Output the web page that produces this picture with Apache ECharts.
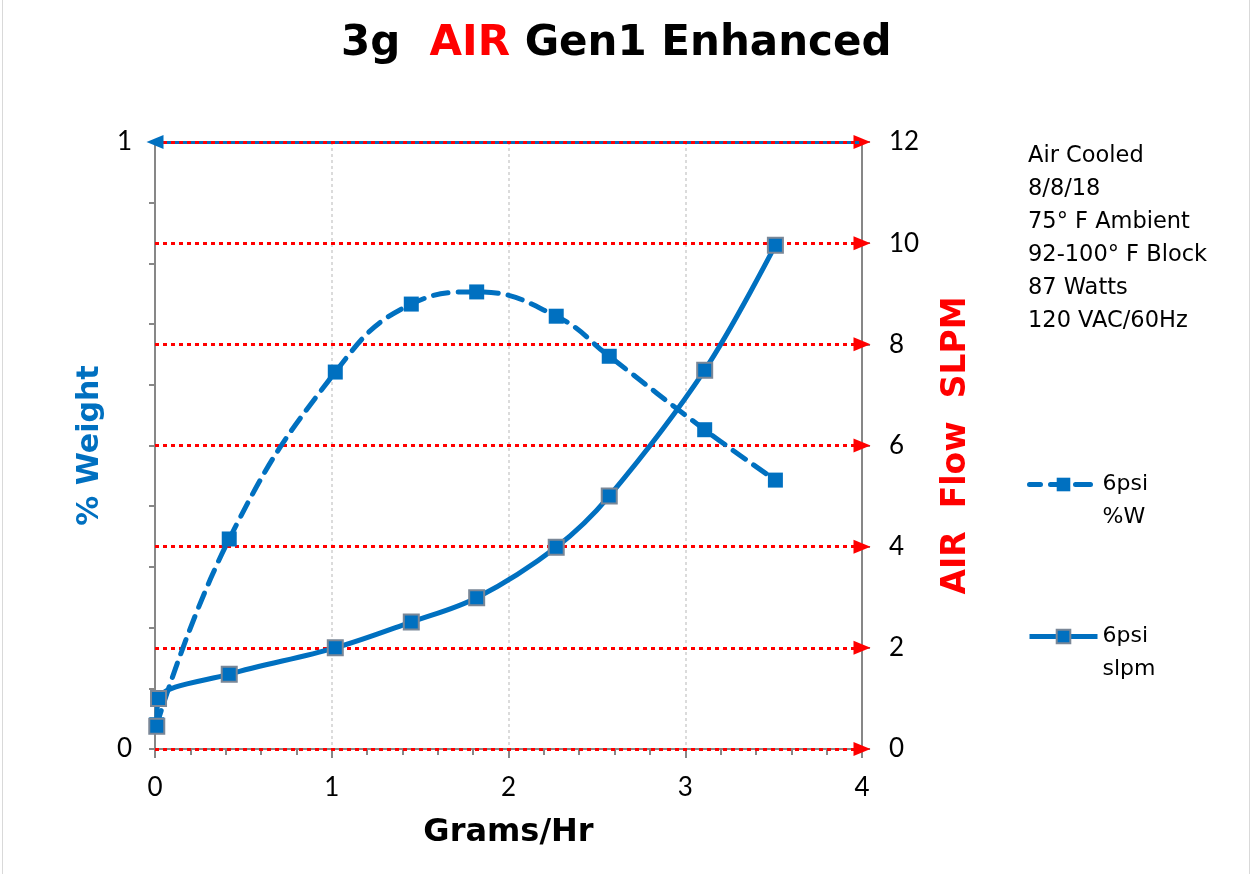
<!DOCTYPE html>
<html>
<head>
<meta charset="utf-8">
<script src="https://cdn.jsdelivr.net/npm/echarts@6/dist/echarts.min.js"></script>
<style>
  html, body { margin: 0; padding: 0; background: #fff; }
  #main { width: 1255px; height: 874px; }
</style>
</head>
<body>
<div id="main"></div>
<script>
// grams/hr for each measured point
var gramsW = [0.01, 0.42, 1.02, 1.45, 1.82, 2.27, 2.57, 3.11, 3.51];
var pctWeight = [0.04, 0.346, 0.621, 0.733, 0.753, 0.713, 0.647, 0.526, 0.443];
var gramsS = [0.01, 0.02, 0.42, 1.02, 1.45, 1.82, 2.27, 2.57, 3.11, 3.51];
var slpm = [0.45, 1.0, 1.48, 2.0, 2.51, 2.99, 3.99, 5.0, 7.49, 9.96];
var flowLevels = [0, 2, 4, 6, 8, 10, 12];
var notes = ['Air Cooled', '8/8/18', '75° F Ambient', '92-100° F Block', '87 Watts', '120 VAC/60Hz'];

var BLUE = '#0070C0';
var RED = '#FF0000';
var FONT = 'DejaVu Sans';
var TICK_FONT = 'Lato';

function pairs(xs, ys) {
  return xs.map(function (x, i) { return [x, ys[i]]; });
}

// legend entries: blank first line so "6psi" sits level with the icon
var legendBase = {
  itemWidth: 68, itemHeight: 17, itemGap: 0,
  formatter: function (name) { return '\n' + name; },
  textStyle: { fontFamily: FONT, fontSize: 22, lineHeight: 33, color: '#000' },
  lineStyle: { width: 5 }
};

var myChart = echarts.init(document.getElementById('main'));

myChart.setOption({
  animation: false,
  textStyle: { fontFamily: FONT },
  title: {
    text: '{k|3g  }{r|AIR}{k| Gen1 Enhanced}',
    left: 336,
    top: 18,
    textStyle: {
      rich: {
        k: { fontFamily: FONT, fontWeight: 'bold', fontSize: 42, color: '#000' },
        r: { fontFamily: FONT, fontWeight: 'bold', fontSize: 42, color: RED }
      }
    }
  },
  grid: { left: 155, right: 393, top: 142, bottom: 125 },
  legend: [
    Object.assign({ data: ['6psi\n%W'], left: 1022, top: 430 }, legendBase),
    Object.assign({ data: ['6psi\nslpm'], left: 1022, top: 582 }, legendBase)
  ],
  graphic: [
    {
      type: 'rect', silent: true,
      shape: { x: 2.5, y: -2, width: 1247, height: 880 },
      style: { fill: 'none', stroke: '#d9d9d9', lineWidth: 1 }
    },
    {
      type: 'text', left: 1028, top: 140,
      style: { text: notes.join('\n'), fontFamily: FONT, fontSize: 22.5, lineHeight: 33, fill: '#000' }
    }
  ],
  xAxis: {
    type: 'value', min: 0, max: 4, interval: 1,
    name: 'Grams/Hr', nameLocation: 'middle', nameGap: 68,
    nameTextStyle: { fontSize: 32, fontWeight: 'bold', color: '#000' },
    axisLine: { lineStyle: { color: '#878787', width: 2 } },
    axisTick: { show: true, length: 9, lineStyle: { color: '#878787', width: 2 } },
    minorTick: { show: true, splitNumber: 5, length: 6, lineStyle: { color: '#878787', width: 2 } },
    axisLabel: { fontFamily: TICK_FONT, fontSize: 26, color: '#000', margin: 26 },
    splitLine: { show: true, lineStyle: { color: '#d0d0d0', type: [3, 3], width: 1.5 } }
  },
  yAxis: [
    {
      type: 'value', min: 0, max: 1, interval: 0.1,
      name: '% Weight', nameLocation: 'middle', nameGap: 50, nameRotate: 90,
      nameTextStyle: { fontSize: 30, fontWeight: 'bold', color: BLUE },
      axisLine: { show: true, lineStyle: { color: '#878787', width: 2 } },
      axisTick: { show: true, length: 6, lineStyle: { color: '#878787', width: 2 } },
      axisLabel: {
        fontFamily: TICK_FONT, fontSize: 26, color: '#000', margin: 23,
        formatter: function (v) { return (v === 0 || v === 1) ? String(v) : ''; }
      },
      splitLine: { show: false }
    },
    {
      type: 'value', min: 0, max: 12, interval: 2, position: 'right',
      name: '{r|AIR  Flow  SLPM}', nameLocation: 'middle', nameGap: 78, nameRotate: 90,
      nameTextStyle: { rich: { r: { fontSize: 33, fontWeight: 'bold', color: RED, fontFamily: FONT } } },
      axisLine: { show: true, lineStyle: { color: '#878787', width: 2 } },
      axisTick: { show: true, length: 8, lineStyle: { color: '#878787', width: 2 } },
      axisLabel: { fontFamily: TICK_FONT, fontSize: 26, color: '#000', margin: 27 },
      splitLine: { show: false }
    }
  ],
  series: [
    {
      name: '6psi\n%W',
      type: 'line',
      yAxisIndex: 0,
      data: pairs(gramsW, pctWeight),
      smooth: 0.45,
      symbol: 'rect', symbolSize: 15,
      itemStyle: { color: BLUE },
      lineStyle: { color: BLUE, width: 5, type: [15, 10], cap: 'round' },
      emphasis: { disabled: true },
      z: 4,
      markLine: {
        silent: true,
        symbol: ['triangle', 'none'],
        symbolSize: [14, 17],
        label: { show: false },
        lineStyle: { color: BLUE, width: 3, type: [4, 4], dashOffset: 4 },
        data: [{ yAxis: 1 }],
        z: 3
      }
    },
    {
      name: '6psi\nslpm',
      type: 'line',
      yAxisIndex: 1,
      data: pairs(gramsS, slpm),
      smooth: 0.35,
      symbol: 'rect', symbolSize: 15,
      itemStyle: { color: BLUE, borderColor: '#7a8797', borderWidth: 2 },
      lineStyle: { color: BLUE, width: 5 },
      emphasis: { disabled: true },
      z: 5,
      markLine: {
        silent: true,
        symbol: ['none', 'triangle'],
        symbolSize: [14, 17],
        label: { show: false },
        lineStyle: { color: RED, width: 3, type: [4, 4] },
        data: flowLevels.map(function (v) { return { yAxis: v }; }),
        z: 2
      }
    }
  ]
});
</script>
</body>
</html>
